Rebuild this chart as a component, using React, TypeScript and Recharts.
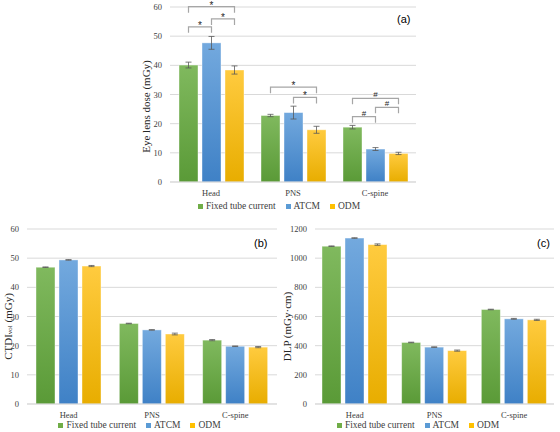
import React from "react";
import { BarChart, Bar, XAxis, YAxis, CartesianGrid, Legend, ErrorBar } from "recharts";

// scan sites shared by all three panels
const sites = ["Head", "PNS", "C-spine"];

// (a) eye lens dose, mGy (mean and SD)
const eyeFixed = [40.1, 22.8, 18.8];
const eyeAtcm = [47.7, 23.8, 11.3];
const eyeOdm = [38.4, 17.9, 9.8];
const eyeFixedSd = [1.0, 0.4, 0.6];
const eyeAtcmSd = [2.2, 2.2, 0.5];
const eyeOdmSd = [1.4, 1.2, 0.4];

// (b) CTDIvol, mGy
const ctdiFixed = [46.9, 27.6, 21.9];
const ctdiAtcm = [49.4, 25.4, 19.8];
const ctdiOdm = [47.3, 24.0, 19.5];
const ctdiFixedSd = [0.1, 0.1, 0.2];
const ctdiAtcmSd = [0.1, 0.1, 0.1];
const ctdiOdmSd = [0.2, 0.3, 0.2];

// (c) DLP, mGy·cm
const dlpFixed = [1082, 422, 648];
const dlpAtcm = [1138, 390, 584];
const dlpOdm = [1093, 366, 577];
const dlpFixedSd = [2, 2, 2];
const dlpAtcmSd = [2, 2, 3];
const dlpOdmSd = [5, 4, 4];

const doseTicks = [0, 10, 20, 30, 40, 50, 60];
const dlpTicks = [0, 200, 400, 600, 800, 1000, 1200];

// significance brackets for panel (a): site index, bar pair, bracket level in mGy
const eyeSig = [
  { site: 0, from: 0, to: 1, level: 53.2, mark: "*" },
  { site: 0, from: 1, to: 2, level: 55.9, mark: "*" },
  { site: 0, from: 0, to: 2, level: 60.1, mark: "*" },
  { site: 1, from: 0, to: 2, level: 32.5, mark: "*" },
  { site: 1, from: 1, to: 2, level: 29.0, mark: "*" },
  { site: 2, from: 0, to: 2, level: 28.7, mark: "#" },
  { site: 2, from: 1, to: 2, level: 25.6, mark: "#" },
  { site: 2, from: 0, to: 1, level: 22.4, mark: "#" },
];

const series = [
  { key: "fixed", name: "Fixed tube current", color: "#70ad47", top: "#80b95e", bottom: "#5a9a37" },
  { key: "atcm", name: "ATCM", color: "#5b9bd5", top: "#73a9de", bottom: "#3f81c6" },
  { key: "odm", name: "ODM", color: "#ffc000", top: "#ffcb3f", bottom: "#e8ad00" },
];

const SERIF = "'Liberation Serif', 'Times New Roman', serif";
const SANS = "'Liberation Sans', Arial, sans-serif";
const BAR_SIZE = 19;
const BAR_GAP = 4;

const buildRows = (f: number[], a: number[], o: number[], fs: number[], as: number[], os: number[]) =>
  sites.map((site, i) => ({
    site,
    fixed: f[i],
    atcm: a[i],
    odm: o[i],
    fixedSd: fs[i],
    atcmSd: as[i],
    odmSd: os[i],
  }));

const eyeRows = buildRows(eyeFixed, eyeAtcm, eyeOdm, eyeFixedSd, eyeAtcmSd, eyeOdmSd);
const ctdiRows = buildRows(ctdiFixed, ctdiAtcm, ctdiOdm, ctdiFixedSd, ctdiAtcmSd, ctdiOdmSd);
const dlpRows = buildRows(dlpFixed, dlpAtcm, dlpOdm, dlpFixedSd, dlpAtcmSd, dlpOdmSd);

const LegendRow = () => (
  <div
    style={{
      display: "flex",
      justifyContent: "center",
      alignItems: "center",
      gap: 10,
      height: "100%",
      fontFamily: SERIF,
      fontSize: 9.5,
      color: "#404040",
      whiteSpace: "nowrap",
    }}
  >
    {series.map((s) => (
      <span key={s.key} style={{ display: "flex", alignItems: "center" }}>
        <span style={{ width: 5, height: 5, background: s.color, marginRight: 3, display: "inline-block" }} />
        {s.name}
      </span>
    ))}
  </div>
);

// rotated axis title, optional subscript part
const YTitle = (props: any) => {
  const { viewBox, main, sub, rest, dx, dy } = props;
  const cx = viewBox.x + dx;
  const cy = viewBox.y + viewBox.height / 2 + dy;
  return (
    <text
      x={cx}
      y={cy}
      transform={`rotate(-90 ${cx} ${cy})`}
      textAnchor="middle"
      dominantBaseline="central"
      fontFamily={SERIF}
      fontSize={11}
      fill="#262626"
    >
      {main}
      {sub && (
        <tspan fontSize={7} dy={2}>
          {sub}
        </tspan>
      )}
      {sub ? <tspan dy={-2}>{rest}</tspan> : rest}
    </text>
  );
};

// last bar of each group also carries the significance brackets for its site
const makeOdmShape = (sig: typeof eyeSig) => (props: any) => {
  const { x, y, width, height, fill, index, payload } = props;
  const base = y + height;
  const k = height / payload.odm;
  const step = width + BAR_GAP;
  const c = x + width / 2;
  const centers = [c - 2 * step, c - step, c];
  return (
    <g>
      <rect x={x} y={y} width={width} height={height} fill={fill} stroke="#ffffff" strokeOpacity={0.5} strokeWidth={0.8} />
      {sig
        .filter((s) => s.site === index)
        .map((s, j) => {
          const yy = base - s.level * k;
          const x1 = centers[s.from];
          const x2 = centers[s.to];
          return (
            <g key={j}>
              <path
                d={`M${x1},${yy + 6}V${yy}H${x2}V${yy + 6}`}
                fill="none"
                stroke="#a6a6a6"
                strokeWidth={1.2}
              />
              <text
                x={(x1 + x2) / 2}
                y={s.mark === "*" ? yy + 2 : yy - 1}
                textAnchor="middle"
                fontFamily={SANS}
                fontSize={s.mark === "*" ? 10 : 8}
                fill="#262626"
              >
                {s.mark}
              </text>
            </g>
          );
        })}
    </g>
  );
};

const plainShape = (props: any) => {
  const { x, y, width, height, fill } = props;
  return <rect x={x} y={y} width={width} height={height} fill={fill} stroke="#ffffff" strokeOpacity={0.5} strokeWidth={0.8} />;
};

interface PanelProps {
  id: string;
  rows: any[];
  ticks: number[];
  width: number;
  height: number;
  margin: { top: number; right: number; left: number; bottom: number };
  yWidth: number;
  xHeight: number;
  legendHeight: number;
  title: React.ReactElement;
  sig?: typeof eyeSig;
}

const Panel = ({ id, rows, ticks, width, height, margin, yWidth, xHeight, legendHeight, title, sig }: PanelProps) => (
  <BarChart width={width} height={height} data={rows} margin={margin} barSize={BAR_SIZE} barGap={BAR_GAP}>
    <defs>
      {series.map((s) => (
        <linearGradient key={s.key} id={`${id}-${s.key}`} x1="0" y1="0" x2="0" y2="1">
          <stop offset="0%" stopColor={s.top} />
          <stop offset="100%" stopColor={s.bottom} />
        </linearGradient>
      ))}
    </defs>
    <CartesianGrid vertical={false} stroke="#d9d9d9" />
    <XAxis
      dataKey="site"
      interval={0}
      height={xHeight}
      tickLine={false}
      axisLine={{ stroke: "#d9d9d9" }}
      tick={{ fontSize: 8.5, fontFamily: SERIF, fill: "#404040" }}
    />
    <YAxis
      width={yWidth}
      domain={[ticks[0], ticks[ticks.length - 1]]}
      ticks={ticks}
      axisLine={false}
      tickLine={false}
      tick={{ fontSize: 8.5, fontFamily: SERIF, fill: "#404040" }}
      label={title}
    />
    <Legend verticalAlign="bottom" content={LegendRow} wrapperStyle={{ height: legendHeight }} />
    {series.map((s) => (
      <Bar
        key={s.key}
        dataKey={s.key}
        name={s.name}
        fill={`url(#${id}-${s.key})`}
        isAnimationActive={false}
        shape={s.key === "odm" && sig ? makeOdmShape(sig) : plainShape}
      >
        <ErrorBar dataKey={`${s.key}Sd`} width={3} stroke="#595959" strokeWidth={0.8} direction="y" isAnimationActive={false} />
      </Bar>
    ))}
  </BarChart>
);

const tagStyle: React.CSSProperties = {
  position: "absolute",
  fontFamily: SANS,
  fontSize: 11,
  color: "#000",
  lineHeight: "14px",
};

export default function App() {
  return (
    <div style={{ position: "absolute", left: 0, top: 0, width: 560, height: 432, background: "#fff", overflow: "hidden" }}>
      <div style={{ position: "absolute", left: 140, top: 0 }}>
        <Panel
          id="eye"
          rows={eyeRows}
          ticks={doseTicks}
          width={280}
          height={215}
          margin={{ top: 7, right: 4, left: 2, bottom: 0 }}
          yWidth={28}
          xHeight={15}
          legendHeight={18}
          sig={eyeSig}
          title={<YTitle main="Eye lens dose (mGy)" dx={4} dy={12} />}
        />
      </div>
      <div style={{ position: "absolute", left: 0, top: 215 }}>
        <Panel
          id="ctdi"
          rows={ctdiRows}
          ticks={doseTicks}
          width={282}
          height={217}
          margin={{ top: 14, right: 5, left: 2, bottom: 0 }}
          yWidth={25}
          xHeight={14}
          legendHeight={14}
          title={<YTitle main="CTDI" sub="vol" rest=" (mGy)" dx={6} dy={10} />}
        />
      </div>
      <div style={{ position: "absolute", left: 280, top: 215 }}>
        <Panel
          id="dlp"
          rows={dlpRows}
          ticks={dlpTicks}
          width={280}
          height={217}
          margin={{ top: 14, right: 6, left: 2, bottom: 0 }}
          yWidth={33}
          xHeight={14}
          legendHeight={14}
          title={<YTitle main="DLP (mGy·cm)" dx={5} dy={10} />}
        />
      </div>
      <span style={{ ...tagStyle, left: 397, top: 12 }}>(a)</span>
      <span style={{ ...tagStyle, left: 254, top: 236 }}>(b)</span>
      <span style={{ ...tagStyle, left: 537, top: 236 }}>(c)</span>
    </div>
  );
}
